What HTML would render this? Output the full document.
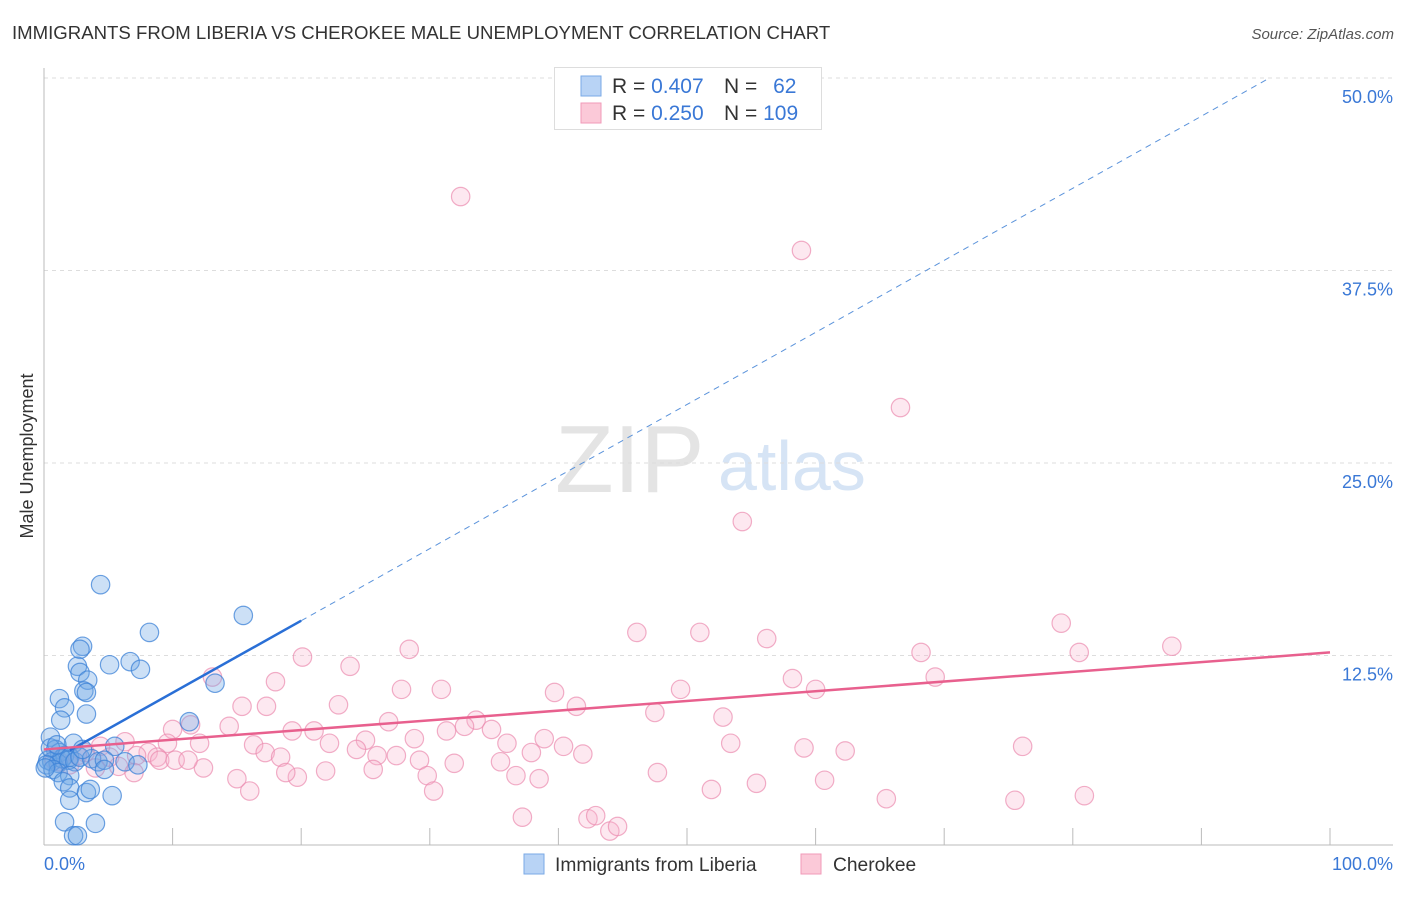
<!DOCTYPE html>
<html><head><meta charset="utf-8"><style>
body{margin:0;background:#fff;font-family:"Liberation Sans",sans-serif}
svg text{font-family:"Liberation Sans",sans-serif}
</style></head><body>
<svg id="c" width="1406" height="892">
<text x="12" y="39" font-size="18.6" fill="#333">IMMIGRANTS FROM LIBERIA VS CHEROKEE MALE UNEMPLOYMENT CORRELATION CHART</text>
<text x="1394" y="39" font-size="15" fill="#555" font-style="italic" text-anchor="end">Source: ZipAtlas.com</text>
<text x="33" y="456" font-size="18" fill="#333" text-anchor="middle" transform="rotate(-90 33 456)">Male Unemployment</text>
<text x="555" y="492" font-size="96" fill="#e4e4e4" font-family="Liberation Serif">ZIP</text>
<text x="718" y="490" font-size="70" fill="#d6e4f5">atlas</text>
<g id="grid"></g>
<g id="pink"></g><g id="blue"></g><g id="lines"></g>
<g>
<rect x="554.5" y="67.5" width="267" height="62" fill="#fff" stroke="#ddd"/>
<rect x="581" y="76" width="20" height="20" fill="#b8d3f5" stroke="#7aaae6"/>
<rect x="581" y="103" width="20" height="20" fill="#fbc9d8" stroke="#f09ab8"/>
<text x="612" y="93" font-size="21" fill="#333">R = <tspan fill="#3a78d6">0.407</tspan></text>
<text x="724" y="93" font-size="21" fill="#333">N = <tspan fill="#3a78d6" dx="10">62</tspan></text>
<text x="612" y="120" font-size="21" fill="#333">R = <tspan fill="#3a78d6">0.250</tspan></text>
<text x="724" y="120" font-size="21" fill="#333">N = <tspan fill="#3a78d6">109</tspan></text>
</g>
<g>
<rect x="524" y="854" width="20" height="20" fill="#b8d3f5" stroke="#7aaae6"/>
<text x="555" y="871" font-size="19.2" fill="#333">Immigrants from Liberia</text>
<rect x="801" y="854" width="20" height="20" fill="#fbc9d8" stroke="#f09ab8"/>
<text x="833" y="871" font-size="19.2" fill="#333">Cherokee</text>
</g>
</svg>
<script>
const yTicks=[12.5,25.0,37.5,50.0];
const yTickLabels=["12.5%","25.0%","37.5%","50.0%"];
const xTickLabels=["0.0%","100.0%"];
const blueX=[4.4,15.5,8.2,3.0,2.8,2.6,5.1,6.7,7.5,2.8,3.4,13.3,3.1,3.3,1.2,1.6,3.3,1.3,11.3,0.5,2.3,5.5,0.9,1.2,1.6,2.0,0.3,0.6,1.1,1.4,1.9,2.4,2.8,3.7,4.2,4.7,6.3,7.3,0.5,0.2,0.7,1.1,2.0,4.7,1.5,2.0,3.3,3.6,5.3,2.0,1.6,4.0,2.3,2.6,0.1,3.0,1.0];
const blueY=[17.1,15.1,14.0,13.1,12.9,11.8,11.9,12.1,11.6,11.4,10.9,10.7,10.2,10.1,9.7,9.1,8.7,8.3,8.2,7.2,6.8,6.6,6.4,6.2,6.0,5.9,5.7,5.6,5.5,5.8,5.7,5.6,5.9,5.8,5.6,5.7,5.6,5.4,6.5,5.4,5.1,4.9,4.7,5.1,4.3,3.9,3.6,3.8,3.4,3.1,1.7,1.6,0.8,0.8,5.2,6.4,6.7];
const pinkX=[32.4,58.9,66.6,54.3,46.1,51.0,56.2,79.1,87.7,68.2,80.5,20.1,23.8,28.4,69.3,58.2,60.0,49.5,39.7,30.9,27.8,18.0,13.1,22.9,41.4,47.5,52.8,15.4,17.3,26.8,33.6,19.3,21.0,11.4,14.4,10.0,32.7,34.8,31.3,28.8,25.0,22.2,38.9,36.0,40.4,41.9,53.4,59.1,62.3,76.1,16.3,12.1,9.6,6.3,4.4,3.2,8.1,8.8,7.2,5.1,17.2,18.4,24.3,25.9,27.4,29.2,31.9,35.5,37.9,36.7,38.5,29.8,19.7,21.9,25.6,18.8,15.0,12.4,5.8,7.0,47.7,16.0,30.3,51.9,55.4,60.7,65.5,75.5,80.9,37.2,42.3,42.9,44.0,44.6,0.8,1.2,2.0,2.6,4.0,9.0,10.2,11.2];
const pinkY=[42.3,38.8,28.6,21.2,14.0,14.0,13.6,14.6,13.1,12.7,12.7,12.4,11.8,12.9,11.1,11.0,10.3,10.3,10.1,10.3,10.3,10.8,11.1,9.3,9.2,8.8,8.5,9.2,9.2,8.2,8.3,7.6,7.6,8.0,7.9,7.7,7.9,7.7,7.6,7.1,7.0,6.8,7.1,6.8,6.6,6.1,6.8,6.5,6.3,6.6,6.7,6.8,6.8,6.9,6.6,6.2,6.2,5.9,6.0,5.9,6.2,5.9,6.4,6.0,6.0,5.7,5.5,5.6,6.2,4.7,4.5,4.7,4.6,5.0,5.1,4.9,4.5,5.2,5.3,4.9,4.9,3.7,3.7,3.8,4.2,4.4,3.2,3.1,3.4,2.0,1.9,2.1,1.1,1.4,5.7,5.6,5.4,6.0,5.2,5.7,5.7,5.7];
const blueFit=[5.4,0.468]; // intercept, slope
const pinkFit=[6.4,0.063];
const NS="http://www.w3.org/2000/svg";
const X=v=>44+v*12.86, Y=v=>848-v*15.4;
function mk(t,a,p){const e=document.createElementNS(NS,t);for(const k in a)e.setAttribute(k,a[k]);p.appendChild(e);return e;}
const svg=document.getElementById('c'),grid=document.getElementById('grid');
yTicks.forEach((t,i)=>{
 const l=mk('line',{x1:44,x2:1393,y1:Y(t),y2:Y(t),stroke:'#ddd','stroke-dasharray':'4,4'},grid);
 
 
 const tx=mk('text',{x:1393,y:Y(t)+25,'font-size':18,fill:'#3a78d6','text-anchor':'end'},grid);tx.textContent=yTickLabels[i];
 
 
});
let ax=mk('line',{x1:44,x2:44,y1:68,y2:845,stroke:'#bbb'},grid);


ax=mk('line',{x1:44,x2:1393,y1:845,y2:845,stroke:'#bbb'},grid);


for(let i=1;i<=10;i++){const t=mk('line',{x1:X(i*10),x2:X(i*10),y1:828,y2:845,stroke:'#bbb'},grid);
 
 }
[[0,'start',44],[100,'end',1393]].forEach((d,i)=>{const t=mk('text',{x:d[2],y:870,'font-size':18,fill:'#3a78d6','text-anchor':d[1]},grid);t.textContent=xTickLabels[i];
 
 });
const pg=document.getElementById('pink'),bg=document.getElementById('blue');
pinkX.forEach((x,i)=>{const c=mk('circle',{cx:X(x),cy:Y(pinkY[i]),r:9.2,fill:'rgba(248,180,205,0.3)',stroke:'rgba(235,140,175,0.7)','stroke-width':1.2},pg);
 
 });
blueX.forEach((x,i)=>{const c=mk('circle',{cx:X(x),cy:Y(blueY[i]),r:9.2,fill:'rgba(110,165,230,0.35)',stroke:'rgba(60,130,215,0.75)','stroke-width':1.2},bg);
 
 });
const lg=document.getElementById('lines');
const f=(fit,x)=>fit[0]+fit[1]*x;
let l=mk('line',{x1:X(20),y1:Y(f(blueFit,20)),x2:X(95.3),y2:Y(f(blueFit,95.3)),stroke:'#5b93db','stroke-dasharray':'6,5','stroke-width':1},lg);


l=mk('line',{x1:X(2),y1:Y(f(blueFit,2)),x2:X(20),y2:Y(f(blueFit,20)),stroke:'#2a6fd6','stroke-width':2.5},lg);


l=mk('line',{x1:X(0),y1:Y(f(pinkFit,0)),x2:X(100),y2:Y(f(pinkFit,100)),stroke:'#e8608e','stroke-width':2.5},lg);


</script>
</body></html>
